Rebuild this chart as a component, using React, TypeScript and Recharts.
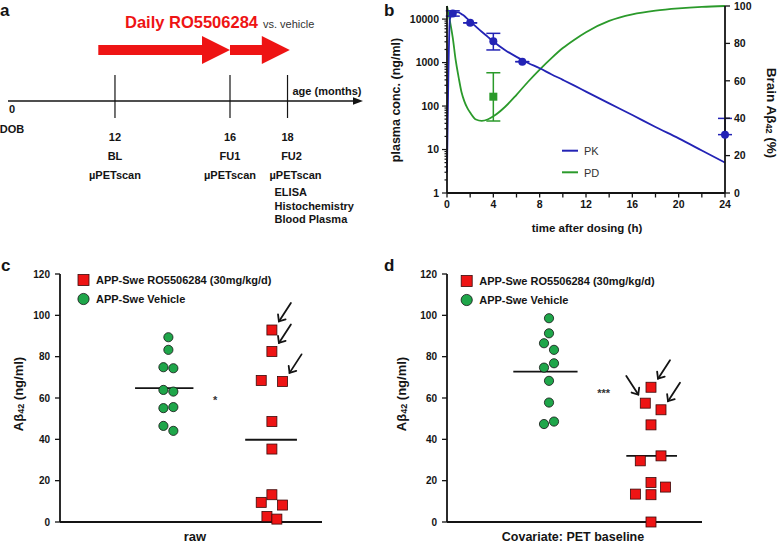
import React from 'react';
import {
  ComposedChart, Line, Scatter, XAxis, YAxis, ErrorBar,
  ReferenceLine, ReferenceArea, ReferenceDot,
} from 'recharts';

const FONT = '"Liberation Sans", Arial, Helvetica, sans-serif';
const INK = '#141414';
const RED = '#ee1414';
const GREEN_DOT = '#1fa64a';
const GREEN_LINE = '#2b9a2b';
const BLUE = '#2323b5';

// ---------------- Panel a : study timeline ----------------
const timelineEvents = [
  { month: 12, code: 'BL', tasks: ['µPETscan'] },
  { month: 16, code: 'FU1', tasks: ['µPETscan'] },
  { month: 18, code: 'FU2', tasks: ['µPETscan', 'ELISA', 'Histochemistry', 'Blood Plasma'] },
];
const treatmentSpans = [
  { from: 11.42, to: 16 },
  { from: 16, to: 18.08 },
];
const timelineOrigin = { value: '0', name: 'DOB' };
const timelineTitle = 'age (months)';
const treatmentTitle = 'Daily RO5506284';
const treatmentSub = 'vs. vehicle';

// ---------------- Panel b : PK / PD ----------------
const curveTimes = [0, 0.25, 0.5, 0.75, 1, 1.25, 1.5, 1.75, 2, 2.5, 3, 3.5, 4, 5, 6, 7, 8, 9, 10, 11, 12, 14, 16, 18, 20, 22, 24];
const pkCurve = [3, 10000, 13500, 14500, 14200, 13000, 11800, 10200, 8800, 6700, 5100, 3950, 3050, 1950, 1350, 980, 740, 540, 400, 295, 215, 115, 62, 33, 18, 9.5, 5];
const pdCurve = [100, 92, 83, 71, 62, 54, 49, 45.5, 43, 39.3, 38.6, 39.3, 41, 46, 52.5, 59.5, 66, 72, 77.5, 82, 86, 92, 95.5, 97.5, 98.7, 99.5, 100];

const pkTimes = [0.5, 2, 4, 6.5, 24];
const pkMean = [13500, 8200, 3100, 1050, 22];
const pkLow = [11700, 8200, 1950, 1050, 22];
const pkHigh = [15500, 8200, 4700, 1050, 52];

const pdTimes = [4];
const pdMean = [51.5];
const pdLow = [38.5];
const pdHigh = [64.3];

const timeTicks = [0, 2, 4, 6, 8, 10, 12, 14, 16, 18, 20, 22, 24];
const logTicks = [
  1, 2, 3, 4, 5, 6, 7, 8, 9,
  10, 20, 30, 40, 50, 60, 70, 80, 90,
  100, 200, 300, 400, 500, 600, 700, 800, 900,
  1000, 2000, 3000, 4000, 5000, 6000, 7000, 8000, 9000,
  10000,
];
const pctTicks = [0, 20, 40, 60, 80, 100];

// ---------------- Panels c / d : Aβ42 dot plots ----------------
const abTicks = [0, 20, 40, 60, 80, 100, 120];
const legendTreated = 'APP-Swe RO5506284 (30mg/kg/d)';
const legendVehicle = 'APP-Swe Vehicle';

// raw
const vehicleRaw = [89.4, 83.3, 74.9, 74.4, 63.9, 63.1, 55.1, 55.6, 46.5, 44.1];
const vehicleRawJitter = [0, 0, -0.048, 0.048, -0.048, 0.048, -0.048, 0.048, -0.048, 0.048];
const treatedRaw = [92.9, 82.5, 68.5, 68.0, 48.6, 35.3, 13.2, 9.5, 8.2, 2.7, 1.4];
const treatedRawJitter = [0, 0, -0.103, 0.103, 0, 0, 0, -0.103, 0.103, -0.048, 0.048];
const medianRaw: [number, number] = [64.8, 39.8];
const markedRaw = [{ index: 0, side: 1 }, { index: 1, side: 1 }, { index: 3, side: 1 }];

// covariate: PET baseline
const vehicleCov = [98.6, 91.3, 86.5, 83.3, 74.7, 76.8, 68.3, 57.8, 47.4, 48.6];
const vehicleCovJitter = [0, 0, -0.049, 0.049, -0.049, 0.049, 0, 0, -0.049, 0.049];
const treatedCov = [65.2, 57.5, 54.3, 47.0, 32.0, 29.6, 19.1, 16.9, 13.5, 13.2, 0];
const treatedCovJitter = [0, -0.056, 0.098, 0, 0.098, -0.105, 0, 0.143, -0.153, 0, 0];
const medianCov: [number, number] = [72.8, 32.0];
const markedCov = [{ index: 0, side: 1 }, { index: 1, side: -1 }, { index: 2, side: 1 }];

// ====================== Panel a components ======================
const TIMELINE_Y = 101; // vertical lane of the timeline inside panel a (layout)

const RedArrow = (p: any) => {
  const { x, y, width, height } = p;
  const head = 28;
  const mid = y + height / 2;
  const bx2 = x + width - head;
  const pts = [
    [x, mid - 5], [bx2, mid - 5], [bx2, y], [x + width, mid],
    [bx2, y + height], [bx2, mid + 5], [x, mid + 5],
  ].map((q) => q.join(',')).join(' ');
  return <polygon points={pts} fill={RED} stroke="none" />;
};

const TimelineAxis = (p: any) => {
  const { x1, y1, x2 } = p;
  return (
    <g>
      <line x1={x1} y1={y1} x2={x2 - 4} y2={y1} stroke={INK} strokeWidth={1.3} />
      <polygon points={`${x2 - 9},${y1 - 3.8} ${x2 + 1},${y1} ${x2 - 9},${y1 + 3.8}`} fill={INK} />
      <text x={x1 + 4} y={y1 + 8} dominantBaseline="central" textAnchor="middle" fontSize={11} fontWeight={700} fill={INK} fontFamily={FONT}>{timelineOrigin.value}</text>
      <text x={x1 + 4} y={y1 + 27.5} dominantBaseline="central" textAnchor="middle" fontSize={11} fontWeight={700} fill={INK} fontFamily={FONT}>{timelineOrigin.name}</text>
      <text x={x2 - 35} y={y1 - 10} dominantBaseline="central" textAnchor="middle" fontSize={11} fontWeight={700} fill={INK} fontFamily={FONT}>{timelineTitle}</text>
    </g>
  );
};

const EventMark = (p: any) => {
  const { cx, cy, payload } = p;
  const ev = payload;
  const multi = ev.tasks.length > 1;
  const st = { fontSize: 11, fontWeight: 700, fill: INK, fontFamily: FONT } as any;
  const ty = cy + 36;
  return (
    <g>
      <line x1={cx} x2={cx} y1={cy - 26} y2={cy + 17} stroke={INK} strokeWidth={1.2} />
      <text x={cx} y={ty} dominantBaseline="central" textAnchor="middle" {...st}>{ev.month}</text>
      <text x={cx + (multi ? 4 : 0)} y={ty + 19} dominantBaseline="central" textAnchor="middle" {...st}>{ev.code}</text>
      <text x={cx + (multi ? 8 : 0)} y={ty + 38} dominantBaseline="central" textAnchor="middle" {...st}>{ev.tasks[0]}</text>
      {ev.tasks.slice(1).map((t: string, i: number) => (
        <text key={t} x={cx - 13} y={ty + 55 + i * 13.7} dominantBaseline="central" textAnchor="start" {...st}>{t}</text>
      ))}
    </g>
  );
};

const timelineData = timelineEvents.map((ev) => ({ ...ev, lane: TIMELINE_Y }));

const TimelinePanel = () => (
  <ComposedChart width={390} height={250} data={timelineData} margin={{ top: 0, right: 28, bottom: 0, left: 8 }}>
    <XAxis type="number" dataKey="month" domain={[8.28, 20.59]} hide />
    <YAxis type="number" domain={[0, 250]} reversed hide />
    {treatmentSpans.map((s, i) => (
      <ReferenceArea key={i} x1={s.from} x2={s.to} y1={36} y2={64} shape={RedArrow} ifOverflow="visible" />
    ))}
    <ReferenceLine y={TIMELINE_Y} shape={TimelineAxis} ifOverflow="visible" />
    <Scatter data={timelineData} dataKey="lane" shape={EventMark} isAnimationActive={false} />
  </ComposedChart>
);

// ====================== Panel b components ======================
const TimeTick = (p: any) => {
  const { x, y, payload } = p;
  const major = payload.value % 4 === 0;
  return (
    <g>
      <line x1={x} x2={x} y1={y} y2={y + 4.5} stroke={INK} strokeWidth={1.3} />
      {major && (
        <text x={x} y={y + 15} textAnchor="middle" fontSize={10.5} fontWeight={700} fill={INK} fontFamily={FONT}>{payload.value}</text>
      )}
    </g>
  );
};

const LogTick = (p: any) => {
  const { x, y, payload } = p;
  const v = payload.value;
  const lg = Math.log10(v);
  const major = Math.abs(lg - Math.round(lg)) < 1e-6;
  return (
    <g>
      <line x1={x} x2={x - (major ? 5 : 2.5)} y1={y} y2={y} stroke={INK} strokeWidth={1.2} />
      {major && (
        <text x={x - 8} y={y} dy="0.355em" textAnchor="end" fontSize={10.5} fontWeight={700} fill={INK} fontFamily={FONT}>{String(v)}</text>
      )}
    </g>
  );
};

const curveData = curveTimes.map((t, i) => ({ t, pk: pkCurve[i], pd: pdCurve[i] }));
const pkPoints = pkTimes.map((t, i) => ({ t, v: pkMean[i], err: [pkMean[i] - pkLow[i], pkHigh[i] - pkMean[i]] }));
const pdPoints = pdTimes.map((t, i) => ({ t, v: pdMean[i], err: [pdMean[i] - pdLow[i], pdHigh[i] - pdMean[i]] }));

const PkPanel = () => (
  <ComposedChart width={389} height={250} data={curveData} margin={{ top: 6, right: 14, bottom: 27, left: 7 }}>
    <XAxis type="number" dataKey="t" domain={[0, 24]} ticks={timeTicks} interval={0} height={30}
      tickSize={0} tickMargin={0} tickLine={false} tick={<TimeTick />}
      axisLine={{ stroke: INK, strokeWidth: 1.8 }} />
    <YAxis yAxisId="left" scale="log" domain={[1, 20000]} ticks={logTicks} interval={0} allowDataOverflow width={50}
      tickSize={0} tickMargin={0} tickLine={false} tick={<LogTick />}
      axisLine={{ stroke: INK, strokeWidth: 1.8 }} />
    <YAxis yAxisId="right" orientation="right" domain={[0, 100]} ticks={pctTicks} interval={0} width={40}
      tickSize={5} tickMargin={4}
      tick={{ fontSize: 10.5, fontWeight: 700, fill: INK, fontFamily: FONT }}
      tickLine={{ stroke: INK, strokeWidth: 1.3 }}
      axisLine={{ stroke: INK, strokeWidth: 1.8 }} />
    <Line yAxisId="right" dataKey="pd" type="monotone" stroke={GREEN_LINE} strokeWidth={1.8} dot={false} isAnimationActive={false} />
    <Line yAxisId="left" dataKey="pk" type="monotone" stroke={BLUE} strokeWidth={1.8} dot={false} isAnimationActive={false} />
    <Scatter yAxisId="left" data={pkPoints} dataKey="v" isAnimationActive={false}
      shape={(p: any) => <circle cx={p.cx} cy={p.cy} r={4} fill={BLUE} />}>
      <ErrorBar dataKey="err" direction="y" width={7} stroke={BLUE} strokeWidth={1.5} isAnimationActive={false} />
    </Scatter>
    <Scatter yAxisId="right" data={pdPoints} dataKey="v" isAnimationActive={false}
      shape={(p: any) => <rect x={p.cx - 4} y={p.cy - 4} width={8} height={8} fill={GREEN_LINE} />}>
      <ErrorBar dataKey="err" direction="y" width={7} stroke={GREEN_LINE} strokeWidth={1.5} isAnimationActive={false} />
    </Scatter>
  </ComposedChart>
);

// ====================== Panels c / d ======================
const VehicleDot = (p: any) => (
  <circle cx={p.cx} cy={p.cy} r={4.6} fill={GREEN_DOT} stroke={INK} strokeWidth={0.8} />
);
const TreatedSquare = (p: any) => (
  <rect x={p.cx - 5} y={p.cy - 5} width={10} height={10} fill={RED} stroke="#3a0a0a" strokeWidth={0.8} />
);
const MarkArrow = (p: any) => {
  const { cx, cy, payload } = p;
  const s = payload.side;
  const tipX = cx + s * 7;
  const tipY = cy - 8.6;
  const tailX = tipX + s * 12;
  const tailY = tipY - 18.5;
  const ang = Math.atan2(tailY - tipY, tailX - tipX);
  const L = 7;
  const a1 = ang + 0.7;
  const a2 = ang - 0.7;
  return (
    <g stroke={INK} strokeWidth={1.8} fill="none" strokeLinecap="round">
      <line x1={tailX} y1={tailY} x2={tipX} y2={tipY} />
      <polyline points={`${tipX + L * Math.cos(a1)},${tipY + L * Math.sin(a1)} ${tipX},${tipY} ${tipX + L * Math.cos(a2)},${tipY + L * Math.sin(a2)}`} />
    </g>
  );
};

type DotPanelProps = {
  width: number;
  vehicle: number[]; vehicleJitter: number[];
  treated: number[]; treatedJitter: number[];
  medians: [number, number];
  medianSpans: [[number, number], [number, number]];
  marked: { index: number; side: number }[];
  stars: string; starX: number; starY: number;
  domain: [number, number];
  margin: { top: number; right: number; bottom: number; left: number };
};

const DotPanel = (props: DotPanelProps) => {
  const vData = props.vehicle.map((y, i) => ({ x: 1 + props.vehicleJitter[i], y }));
  const tData = props.treated.map((y, i) => ({ x: 2 + props.treatedJitter[i], y }));
  const arrows = props.marked.map((m) => ({ ...tData[m.index], side: m.side }));
  return (
    <ComposedChart width={props.width} height={286} margin={props.margin}>
      <XAxis type="number" dataKey="x" domain={props.domain} allowDataOverflow tick={false} tickLine={false} height={10}
        axisLine={{ stroke: INK, strokeWidth: 1.8 }} />
      <YAxis type="number" domain={[0, 120]} ticks={abTicks} interval={0} width={45} tickSize={5} tickMargin={5}
        tick={{ fontSize: 10, fontWeight: 700, fill: INK, fontFamily: FONT }}
        tickLine={{ stroke: INK, strokeWidth: 1.3 }}
        axisLine={{ stroke: INK, strokeWidth: 1.8 }} />
      <Scatter data={vData} dataKey="y" shape={VehicleDot} isAnimationActive={false} />
      <Scatter data={tData} dataKey="y" shape={TreatedSquare} isAnimationActive={false} />
      <Scatter data={arrows} dataKey="y" shape={MarkArrow} isAnimationActive={false} />
      <ReferenceLine segment={[{ x: props.medianSpans[0][0], y: props.medians[0] }, { x: props.medianSpans[0][1], y: props.medians[0] }]} stroke={INK} strokeWidth={1.8} />
      <ReferenceLine segment={[{ x: props.medianSpans[1][0], y: props.medians[1] }, { x: props.medianSpans[1][1], y: props.medians[1] }]} stroke={INK} strokeWidth={1.8} />
      <ReferenceDot x={props.starX} y={props.starY} r={0} ifOverflow="visible"
        shape={(p: any) => (
          <text x={p.cx} y={p.cy} dy={6} textAnchor="middle" fontSize={11} fontWeight={700} fill="#333" fontFamily={FONT}>{props.stars}</text>
        )} />
    </ComposedChart>
  );
};

// ====================== Overlay texts ======================
const T = (p: any) => <text fontFamily={FONT} fill={INK} fontWeight={700} dominantBaseline="central" {...p} />;

const DotLegend = ({ x, y }: { x: number; y: number }) => (
  <g>
    <rect x={x - 5.5} y={y - 5.5} width={11} height={11} fill={RED} stroke="#3a0a0a" strokeWidth={0.8} />
    <T x={x + 12.5} y={y} fontSize={11}>{legendTreated}</T>
    <circle cx={x} cy={y + 19} r={5.6} fill={GREEN_DOT} stroke={INK} strokeWidth={0.8} />
    <T x={x + 12.5} y={y + 19} fontSize={11}>{legendVehicle}</T>
  </g>
);

const Overlay = () => (
  <svg width={779} height={546} style={{ position: 'absolute', left: 0, top: 0, pointerEvents: 'none' }}>
    <T x={0} y={10} fontSize={17}>a</T>
    <T x={384} y={10} fontSize={17}>b</T>
    <T x={1} y={265} fontSize={17}>c</T>
    <T x={384} y={265} fontSize={17}>d</T>

    <T x={125} y={22} fontSize={16.5} fill={RED}>{treatmentTitle}</T>
    <T x={263} y={24} fontSize={11} fontWeight={400} fill="#333">{treatmentSub}</T>

    {/* panel b legend */}
    <line x1={562} x2={578} y1={150.7} y2={150.7} stroke={BLUE} strokeWidth={2} />
    <T x={584} y={151} fontSize={11} fontWeight={400} fill="#333">PK</T>
    <line x1={562} x2={578} y1={172.3} y2={172.3} stroke={GREEN_LINE} strokeWidth={2} />
    <T x={584} y={172.5} fontSize={11} fontWeight={400} fill="#333">PD</T>

    {/* panel b axis titles */}
    <T x={587} y={228} fontSize={11.5} textAnchor="middle">time after dosing (h)</T>
    <T x={396} y={100} fontSize={12.5} textAnchor="middle" transform="rotate(-90 396 100)">plasma conc. (ng/ml)</T>
    <T x={772} y={113} fontSize={13.5} textAnchor="middle" transform="rotate(90 772 113)">
      <tspan>Brain Aβ</tspan><tspan fontSize={9} dy={3}>42</tspan><tspan dy={-3}> (%)</tspan>
    </T>

    {/* panel c */}
    <DotLegend x={83.5} y={280} />
    <T x={18} y={394} fontSize={13} textAnchor="middle" transform="rotate(-90 18 394)">
      <tspan>Aβ</tspan><tspan fontSize={9} dy={3}>42</tspan><tspan dy={-3}> (ng/ml)</tspan>
    </T>
    <T x={195} y={536} fontSize={13} textAnchor="middle">raw</T>

    {/* panel d */}
    <DotLegend x={466.7} y={281} />
    <T x={401} y={394} fontSize={13} textAnchor="middle" transform="rotate(-90 401 394)">
      <tspan>Aβ</tspan><tspan fontSize={9} dy={3}>42</tspan><tspan dy={-3}> (ng/ml)</tspan>
    </T>
    <T x={573} y={537} fontSize={12.5} textAnchor="middle">Covariate: PET baseline</T>
  </svg>
);

export default function App() {
  return (
    <div style={{ position: 'absolute', left: 0, top: 0, width: 779, height: 546, background: '#fff', fontFamily: FONT, overflow: 'hidden' }}>
      <div style={{ position: 'absolute', left: 0, top: 0 }}>
        <TimelinePanel />
      </div>
      <div style={{ position: 'absolute', left: 390, top: 0 }}>
        <PkPanel />
      </div>
      <div style={{ position: 'absolute', left: 0, top: 260 }}>
        <DotPanel
          width={390}
          vehicle={vehicleRaw} vehicleJitter={vehicleRawJitter}
          treated={treatedRaw} treatedJitter={treatedRawJitter}
          medians={medianRaw} medianSpans={[[0.678, 1.242], [1.742, 2.242]]}
          marked={markedRaw}
          stars="*" starX={1.452} starY={60}
          domain={[-0.047, 2.484]}
          margin={{ top: 14, right: 68, bottom: 14, left: 15 }}
        />
      </div>
      <div style={{ position: 'absolute', left: 390, top: 260 }}>
        <DotPanel
          width={389}
          vehicle={vehicleCov} vehicleJitter={vehicleCovJitter}
          treated={treatedCov} treatedJitter={treatedCovJitter}
          medians={medianCov} medianSpans={[[0.65, 1.28], [1.758, 2.255]]}
          marked={markedCov}
          stars="***" starX={1.535} starY={63.5}
          domain={[0, 2.5]}
          margin={{ top: 14, right: 77, bottom: 14, left: 12 }}
        />
      </div>
      <Overlay />
    </div>
  );
}
